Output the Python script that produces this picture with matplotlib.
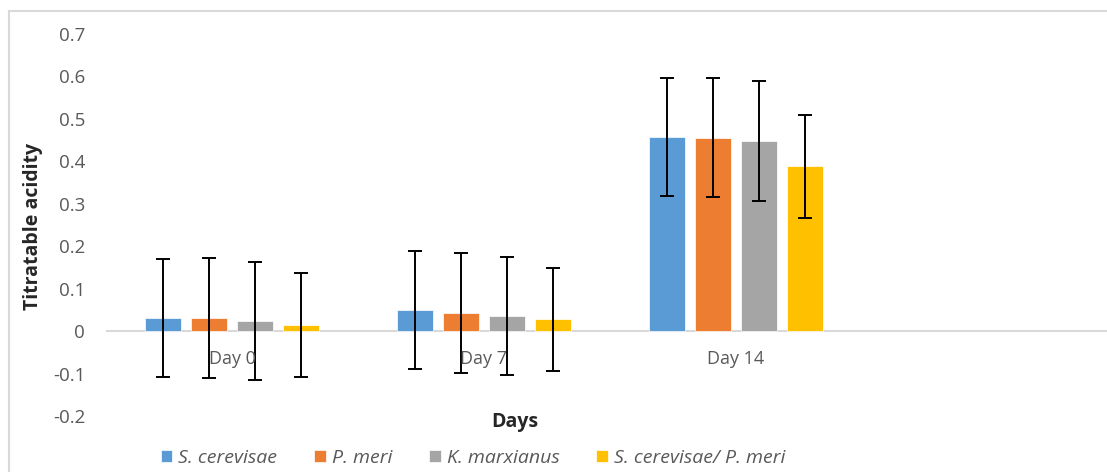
import numpy as np
import matplotlib.pyplot as plt
from matplotlib.patches import Rectangle

# values
days = ['Day 0', 'Day 7', 'Day 14', '']
series = ['S. cerevisae', 'P. meri', 'K. marxianus', 'S. cerevisae/ P. meri']
s_cerevisae = [0.030, 0.050, 0.458, np.nan]
p_meri = [0.031, 0.043, 0.456, np.nan]
k_marxianus = [0.023, 0.036, 0.448, np.nan]
s_cer_p_meri = [0.014, 0.028, 0.388, np.nan]
err_s_cerevisae = [0.139, 0.139, 0.139, np.nan]
err_p_meri = [0.141, 0.141, 0.141, np.nan]
err_k_marxianus = [0.139, 0.139, 0.141, np.nan]
err_s_cer_p_meri = [0.122, 0.121, 0.122, np.nan]

values = [s_cerevisae, p_meri, k_marxianus, s_cer_p_meri]
errors = [err_s_cerevisae, err_p_meri, err_k_marxianus, err_s_cer_p_meri]
colors = ['#5B9BD5', '#ED7D31', '#A5A5A5', '#FFC000']

plt.rcParams['font.family'] = ['Open Sans', 'DejaVu Sans']

W, H = 1107, 472
fig = plt.figure(figsize=(W / 100, H / 100), dpi=100)

# outer chart border (cut off at right and bottom like the reference)
fig.patches.append(Rectangle((8.5 / W, -0.1), 1.2, (H - 10.5) / H + 0.1,
                             transform=fig.transFigure, fill=False,
                             edgecolor='#d9d9d9', lw=1.5))

ax = fig.add_axes([106 / W, 1 - 416 / H, (W - 106) / W, (416 - 34) / H])

x = np.arange(len(days))
step = 0.183
width = 0.143
for i, (vals, errs, c, name) in enumerate(zip(values, errors, colors, series)):
    pos = x + (i - 1.5) * step
    ax.bar(pos, vals, width, color=c, label=name, edgecolor='white', lw=0.5)
    ax.errorbar(pos, vals, yerr=errs, fmt='none', ecolor='black',
                elinewidth=1.4, capsize=4.7, capthick=1.4)

ax.axhline(0, color='#d9d9d9', lw=1.5, zorder=0.5)
ax.set_xlim(-0.5, -0.5 + (W - 106) / 252)
ax.set_ylim(-0.2, 0.7)
ax.set_yticks(np.arange(-0.2, 0.71, 0.1))
ax.set_yticklabels(['-0.2', '-0.1', '0', '0.1', '0.2', '0.3', '0.4', '0.5', '0.6', '0.7'])
ax.tick_params(axis='y', length=0, pad=15, labelsize=13.5, labelcolor='#595959')
ax.set_xticks([])
for s in ax.spines.values():
    s.set_visible(False)

for xi, d in zip(x, days):
    if d:
        ax.annotate(d, (xi, 0), xytext=(0, -19), textcoords='offset pixels',
                    ha='center', va='top', fontsize=13, color='#595959')

fig.text(33 / W, 1 - 226 / H, 'Titratable acidity', rotation=90, ha='center',
         va='center', fontsize=14, fontweight='bold', color='#262626')
fig.text(515 / W, 1 - 422 / H, 'Days', ha='center', va='center',
         fontsize=14, fontweight='bold', color='#262626')

leg = fig.legend(loc='center', bbox_to_anchor=(473 / W, 1 - 458 / H), ncol=4,
                 frameon=False, handlelength=0.6, handleheight=0.6,
                 handletextpad=0.3, columnspacing=1.9,
                 prop={'style': 'italic', 'size': 14})
for t in leg.get_texts():
    t.set_color('#595959')

fig.savefig('out.png', dpi=100)
